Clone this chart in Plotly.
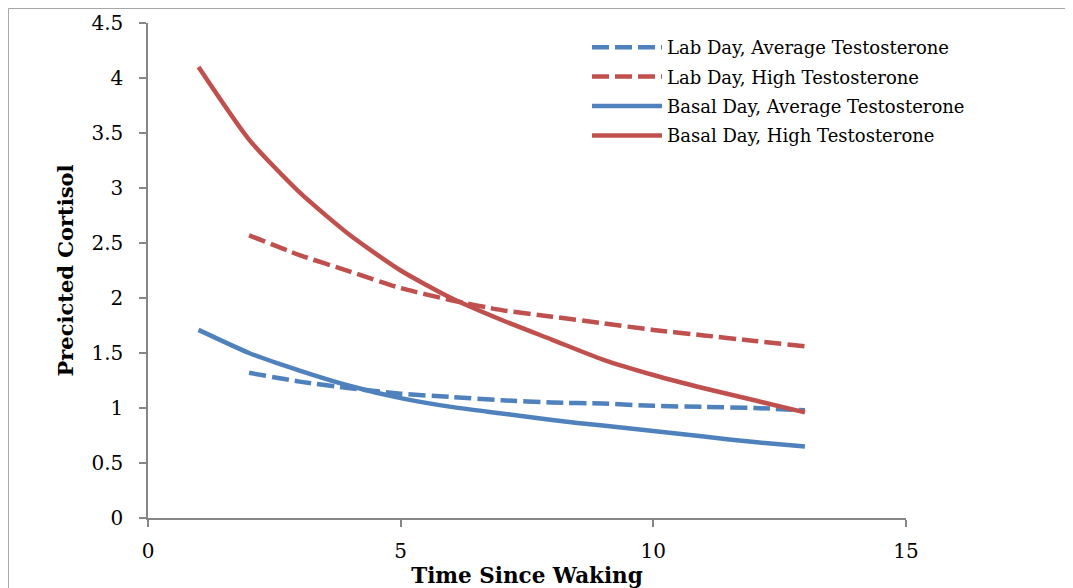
import plotly.graph_objects as go

x_basal = [1, 2, 3, 4, 5, 6, 7, 8, 9, 10, 11, 12, 13]
basal_high = [4.10, 3.44, 2.96, 2.57, 2.25, 2.00, 1.80, 1.62, 1.44, 1.30, 1.18, 1.07, 0.96]
basal_avg = [1.71, 1.50, 1.34, 1.20, 1.09, 1.01, 0.95, 0.89, 0.84, 0.79, 0.74, 0.69, 0.65]
x_lab = [2, 3, 4, 5, 6, 7, 8, 9, 10, 11, 12, 13]
lab_high = [2.57, 2.39, 2.24, 2.09, 1.98, 1.89, 1.83, 1.77, 1.71, 1.66, 1.61, 1.56]
lab_avg = [1.32, 1.24, 1.18, 1.13, 1.10, 1.07, 1.05, 1.04, 1.02, 1.01, 1.00, 0.98]

names = ["Lab Day, Average Testosterone", "Lab Day, High Testosterone",
         "Basal Day, Average Testosterone", "Basal Day, High Testosterone"]

BLUE = "#4F81BD"
RED = "#C0504D"
FONT = "DejaVu Serif"

fig = go.Figure()
series = [
    (x_lab, lab_avg, BLUE, "17px,6px"),
    (x_lab, lab_high, RED, "17px,6px"),
    (x_basal, basal_avg, BLUE, "solid"),
    (x_basal, basal_high, RED, "solid"),
]
for i, ((xs, ys, col, dash), nm) in enumerate(zip(series, names)):
    fig.add_trace(go.Scatter(x=xs, y=ys, mode="lines", name=nm, legendgroup=f"g{i}",
                             line=dict(color=col, width=4.5, dash=dash, shape="spline", smoothing=0.6)))

# page body has an 8px margin: figure coords = screen coords - 8
OFF = 8
W, H = 1073 - OFF, 588 - OFF
L = 148 - OFF
T = 23 - OFF
pw, ph = 758, 495
R = W - L - pw
B = H - T - ph

def px(xs):
    return (xs - OFF - L) / pw

def py(ys):
    return (T + ph - (ys - OFF)) / ph

fig.update_layout(
    width=W, height=H,
    margin=dict(l=L, r=R, t=T, b=B, pad=0, autoexpand=False),
    paper_bgcolor="white", plot_bgcolor="white",
    font=dict(family=FONT, color="black"),
    showlegend=True,
    legend=dict(x=px(587), y=py(29), xanchor="left", yanchor="top",
                font=dict(size=18, family=FONT), bgcolor="rgba(0,0,0,0)",
                itemwidth=70, tracegroupgap=3),
    xaxis=dict(range=[0, 15], tickvals=[0, 5, 10, 15], showgrid=False, zeroline=False,
               automargin=False,
               showline=True, linecolor="#868686", linewidth=1.5,
               ticks="outside", ticklen=7, tickcolor="#868686", tickwidth=1.5,
               ticklabelstandoff=7,
               tickfont=dict(size=20, family=FONT),
               title=dict(text="<b>Time Since Waking</b>", font=dict(size=21.5, family=FONT), standoff=0)),
    yaxis=dict(range=[0, 4.5], tickvals=[0, 0.5, 1, 1.5, 2, 2.5, 3, 3.5, 4, 4.5],
               ticktext=["0", "0.5", "1", "1.5", "2", "2.5", "3", "3.5", "4", "4.5"],
               showgrid=False, zeroline=False,
               automargin=False,
               showline=True, linecolor="#868686", linewidth=1.5,
               ticks="outside", ticklen=7, tickcolor="#868686", tickwidth=1.5,
               ticklabelstandoff=12,
               tickfont=dict(size=20, family=FONT),
               title=dict(text="<b>Precicted Cortisol</b>", font=dict(size=21, family=FONT), standoff=12)),
)

fig.add_shape(type="line", xref="paper", yref="paper",
              x0=px(8.5), x1=px(1090), y0=py(8.2), y1=py(8.2),
              line=dict(color="#A6A6A6", width=1.5))
fig.add_shape(type="line", xref="paper", yref="paper",
              x0=px(8.2), x1=px(8.2), y0=py(8.2), y1=py(600),
              line=dict(color="#A6A6A6", width=1.5))

fig.write_html("out.html")
